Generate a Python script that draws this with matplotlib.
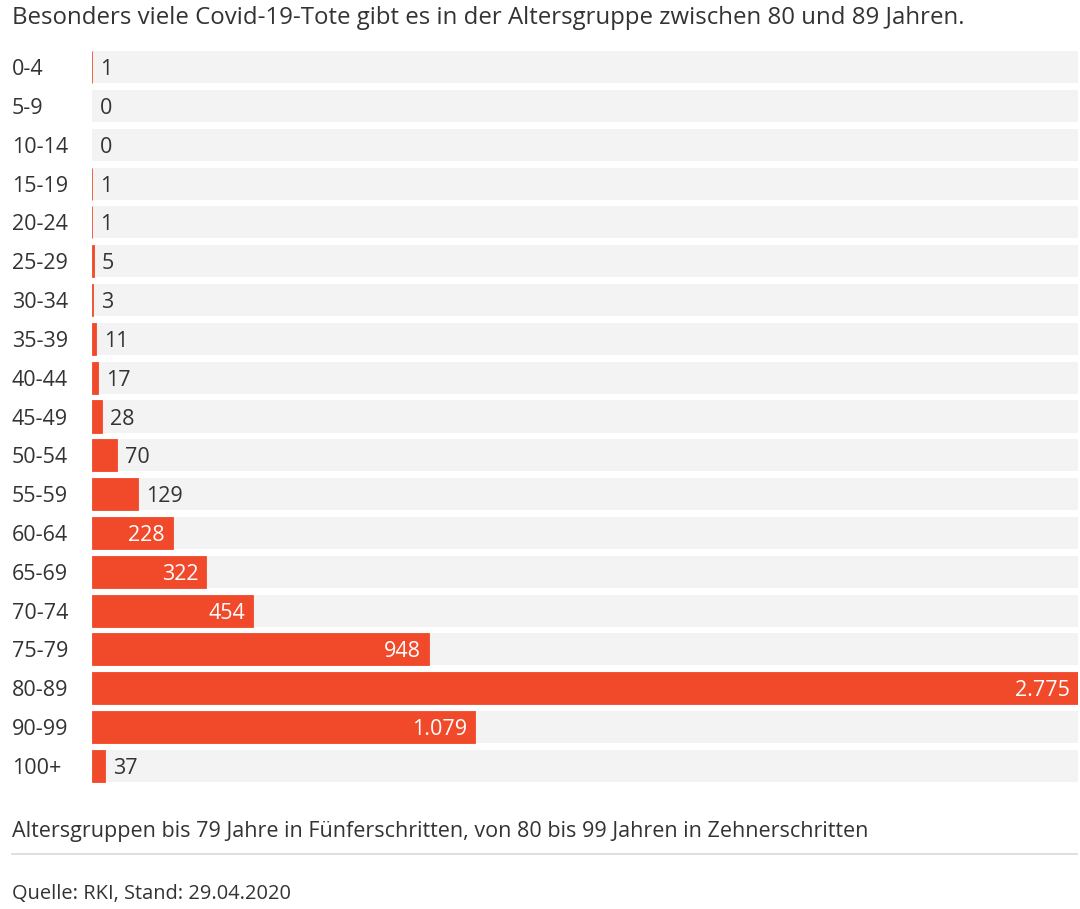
import matplotlib
matplotlib.use("Agg")
import matplotlib.pyplot as plt
from matplotlib.lines import Line2D

categories = ["0-4", "5-9", "10-14", "15-19", "20-24", "25-29", "30-34", "35-39",
              "40-44", "45-49", "50-54", "55-59", "60-64", "65-69", "70-74",
              "75-79", "80-89", "90-99", "100+"]
values = [1, 0, 0, 1, 1, 5, 3, 11, 17, 28, 70, 129, 228, 322, 454, 948, 2775, 1079, 37]

title = "Besonders viele Covid-19-Tote gibt es in der Altersgruppe zwischen 80 und 89 Jahren."
note = "Altersgruppen bis 79 Jahre in Fünferschritten, von 80 bis 99 Jahren in Zehnerschritten"
source = "Quelle: RKI, Stand: 29.04.2020"

RED = "#f04a2b"
BG = "#f3f3f3"
TXT = "#333333"
FS = 15.5

plt.rcParams['font.family'] = ['Open Sans', 'DejaVu Sans']

W, H = 1080, 909
fig = plt.figure(figsize=(W / 100, H / 100), dpi=100)
fig.patch.set_facecolor("white")

left, right = 92 / W, 1078 / W
top, bottom = 1 - 47.6 / H, 1 - 785.4 / H
ax = fig.add_axes([left, bottom, right - left, top - bottom])

vmax = max(values)
n = len(categories)
ys = list(range(n))
h = 32 / 38.83

ax.barh(ys, [vmax] * n, height=h, color=BG, zorder=1)
bars = ax.barh(ys, values, height=h, color=RED, zorder=2)
for b, v in zip(bars, values):
    if v > 0:
        b.set_edgecolor(RED)
        b.set_linewidth(0.6)

ax.set_xlim(0, vmax)
ax.set_ylim(n - 0.5, -0.5)
ax.axis("off")

def fmt(v):
    return f"{v:,}".replace(",", ".")

px = vmax / (1078 - 92)
dy = 2.5 / 38.83
for y, v, c in zip(ys, values, categories):
    if v >= 200:
        ax.text(v - 8 * px, y + dy, fmt(v), ha="right", va="center", color="white",
                fontsize=FS, zorder=3)
    else:
        ax.text(v + 8 * px, y + dy, fmt(v), ha="left", va="center", color=TXT,
                fontsize=FS, zorder=3)
    ax.text(-80 * px, y + dy, c, ha="left", va="center", color=TXT, fontsize=FS,
            clip_on=False)

fig.text(12 / W, 1 - 18 / H, title, ha="left", va="center", color=TXT, fontsize=17.3)
fig.text(12 / W, 1 - 831 / H, note, ha="left", va="center", color=TXT, fontsize=FS)
fig.add_artist(Line2D([12 / W, 1077 / W], [1 - 854 / H, 1 - 854 / H],
                      color="#d9d9d9", linewidth=1.2, transform=fig.transFigure))
fig.text(12 / W, 1 - 894 / H, source, ha="left", va="center", color=TXT, fontsize=14.4)

fig.savefig("out.png", dpi=100, facecolor="white")
